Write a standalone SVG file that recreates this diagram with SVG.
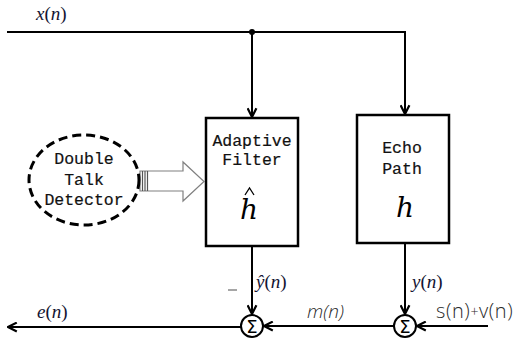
<svg xmlns="http://www.w3.org/2000/svg" width="518" height="342" viewBox="0 0 518 342">
  <style>
    .wire { fill: none; stroke: #000; stroke-width: 2; }
    .box { fill: #fff; stroke: #000; stroke-width: 2.5; }
    .mono { font-family: "Liberation Mono", "Courier New", monospace; font-size: 16.5px; fill: #111; stroke: #111; stroke-width: 0.2; text-anchor: middle; }
    .sig { font-family: "Liberation Serif", "Times New Roman", serif; font-size: 19px; fill: #141432; }
    .sig .it { font-style: italic; }
    .thin { font-family: "Open Sans", "DejaVu Sans", sans-serif; font-weight: 300; fill: #2a2a2a; }
    .sum { fill: #fff; stroke: #000; stroke-width: 2; }
    .sigma { font-family: "DejaVu Sans", sans-serif; font-size: 18px; text-anchor: middle; fill: #000; }
    .coef { font-family: "DejaVu Serif", "Liberation Serif", serif; font-style: italic; font-size: 28px; text-anchor: middle; fill: #000; }
  </style>
  <defs>
    <marker id="arr" viewBox="0 0 10 10" refX="9" refY="5" markerWidth="5.5" markerHeight="5.5" orient="auto" markerUnits="strokeWidth">
      <path d="M1,1 L9,5 L1,9" fill="none" stroke="#000" stroke-width="2"/>
    </marker>
  </defs>

  <rect width="518" height="342" fill="#fff"/>

  <!-- connectors -->
  <g id="connectors">
    <path class="wire" d="M7,32 H405 V114" marker-end="url(#arr)"/>
    <path class="wire" d="M252,32 V117" marker-end="url(#arr)"/>
    <circle cx="252" cy="32" r="3" fill="#000"/>
    <path class="wire" d="M252,246 V314" marker-end="url(#arr)"/>
    <path class="wire" d="M405,243 V314" marker-end="url(#arr)"/>
    <path class="wire" d="M394,326 H264" marker-end="url(#arr)"/>
    <path class="wire" d="M488,326 H417" marker-end="url(#arr)"/>
    <path class="wire" d="M241,327 H8" marker-end="url(#arr)"/>
    <!-- hollow control arrow from the detector -->
    <g id="dtd-arrow" fill="#fff" stroke="#808080" stroke-width="1.2">
      <path d="M140,171 H183 V162 L204,181.5 L183,201 V191 H140 Z"/>
      <path d="M142.5,171 V191 M145,171 V191 M147.5,171 V191" stroke="#555"/>
    </g>
  </g>

  <!-- nodes -->
  <g id="double-talk-detector">
    <ellipse cx="84" cy="180" rx="55" ry="45" fill="#fff" stroke="#000" stroke-width="3" stroke-dasharray="9,5"/>
    <text class="mono" x="84" y="164">Double</text>
    <text class="mono" x="84" y="185">Talk</text>
    <text class="mono" x="84" y="205">Detector</text>
  </g>

  <g id="adaptive-filter">
    <rect class="box" x="206" y="118" width="92" height="128"/>
    <text class="mono" x="252" y="146">Adaptive</text>
    <text class="mono" x="252" y="165">Filter</text>
    <text class="coef" x="249" y="219">h</text>
    <path d="M245,195 L249.5,188 L254,195" fill="none" stroke="#000" stroke-width="1.3"/>
  </g>

  <g id="echo-path">
    <rect class="box" x="357" y="115" width="92" height="128"/>
    <text class="mono" x="402" y="153">Echo</text>
    <text class="mono" x="402" y="174">Path</text>
    <text class="coef" x="405" y="217">h</text>
  </g>

  <g id="sum-left">
    <circle class="sum" cx="252" cy="326" r="11"/>
    <text class="sigma" x="252" y="332.5">Σ</text>
  </g>

  <g id="sum-right">
    <circle class="sum" cx="405" cy="326" r="11"/>
    <text class="sigma" x="405" y="332.5">Σ</text>
  </g>

  <!-- signal labels -->
  <g id="labels">
    <text class="sig" x="36" y="20"><tspan class="it">x</tspan>(<tspan class="it">n</tspan>)</text>
    <text class="sig" x="37" y="318"><tspan class="it">e</tspan>(<tspan class="it">n</tspan>)</text>
    <text class="sig" x="256" y="288"><tspan class="it">ŷ</tspan>(<tspan class="it">n</tspan>)</text>
    <text class="sig" x="412" y="288"><tspan class="it">y</tspan>(<tspan class="it">n</tspan>)</text>
    <line x1="228" y1="290" x2="237" y2="290" stroke="#888" stroke-width="1.5"/>
    <text class="thin" x="307" y="318" font-size="19" font-style="italic">m(n)</text>
    <text class="thin" x="436" y="318" font-size="20" letter-spacing="0.6">s(n)<tspan font-size="14" dy="-1">+</tspan><tspan dy="1">v(n)</tspan></text>
  </g>
</svg>
